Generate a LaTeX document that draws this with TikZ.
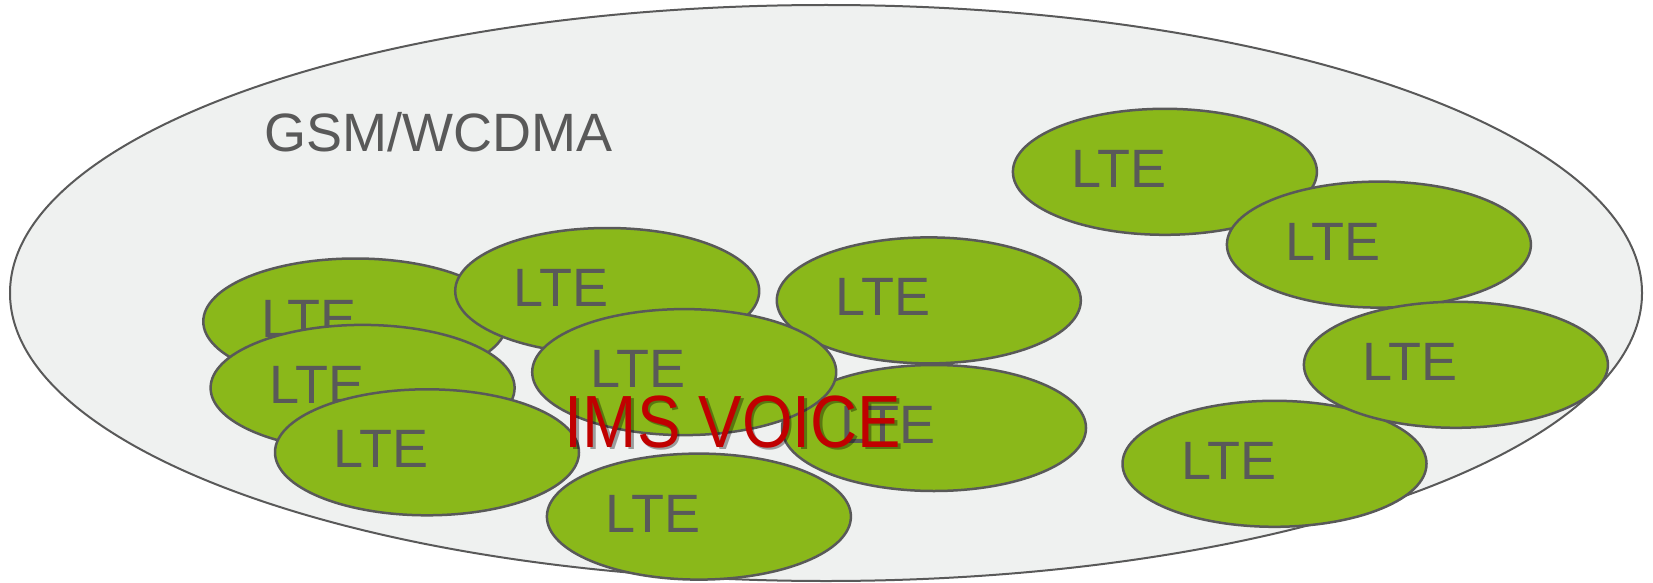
\documentclass[tikz,border=0pt]{standalone}
\usepackage{fontspec}
\setmainfont{Liberation Sans}
\usetikzlibrary{shapes.geometric}
\definecolor{cellgreen}{RGB}{138,184,26}
\definecolor{edgegray}{RGB}{89,89,89}
\definecolor{areafill}{RGB}{239,241,240}
\definecolor{voicered}{RGB}{192,0,0}
\tikzset{
  area/.style={ellipse, draw=edgegray, fill=areafill, line width=2pt,
    minimum width=1632pt, minimum height=576pt, inner sep=0pt},
  cell/.style={ellipse, draw=edgegray, fill=cellgreen, line width=2.5pt,
    minimum width=304pt, minimum height=126pt, inner sep=0pt},
  celltext/.style={text=edgegray, font=\fontsize{54}{60}\selectfont, inner sep=0pt},
  areatext/.style={text=edgegray, font=\fontsize{54}{60}\selectfont, inner sep=0pt, anchor=west},
  voicetext/.style={font=\fontsize{74}{80}\selectfont, inner sep=0pt, xscale=0.88}
}
\newcommand\ltecell[3]{%
  \node[cell] (#1) at (#2,#3) {};
  \node[celltext] (#1t) at ([xshift=-46pt,yshift=3pt]#1.center) {LTE};
}
\begin{document}
\begin{tikzpicture}[x=1pt,y=-1pt]
\useasboundingbox (0,0) rectangle (1653,583);
\node[area] (gsm) at (826,293) {};
\node[areatext] (gsmt) at (264,132) {GSM/WCDMA};
\ltecell{c7}{355.3}{321.5}
\ltecell{c8}{607.2}{291.0}
\ltecell{c10}{362.6}{387.9}
\ltecell{c11}{427.0}{452.3}
\ltecell{c5}{928.8}{300.4}
\ltecell{c6}{934.0}{428.0}
\ltecell{c9}{684.2}{372.1}
\ltecell{c12}{698.9}{516.6}
\ltecell{c1}{1164.9}{171.8}
\ltecell{c2}{1378.9}{244.6}
\ltecell{c4}{1274.5}{463.8}
\ltecell{c3}{1455.9}{364.8}
\node[voicetext, text=black, opacity=0.35] (imss) at (735.5,424.5) {IMS VOICE};
\node[voicetext, text=voicered] (ims) at (733,422) {IMS VOICE};
\end{tikzpicture}
\end{document}
